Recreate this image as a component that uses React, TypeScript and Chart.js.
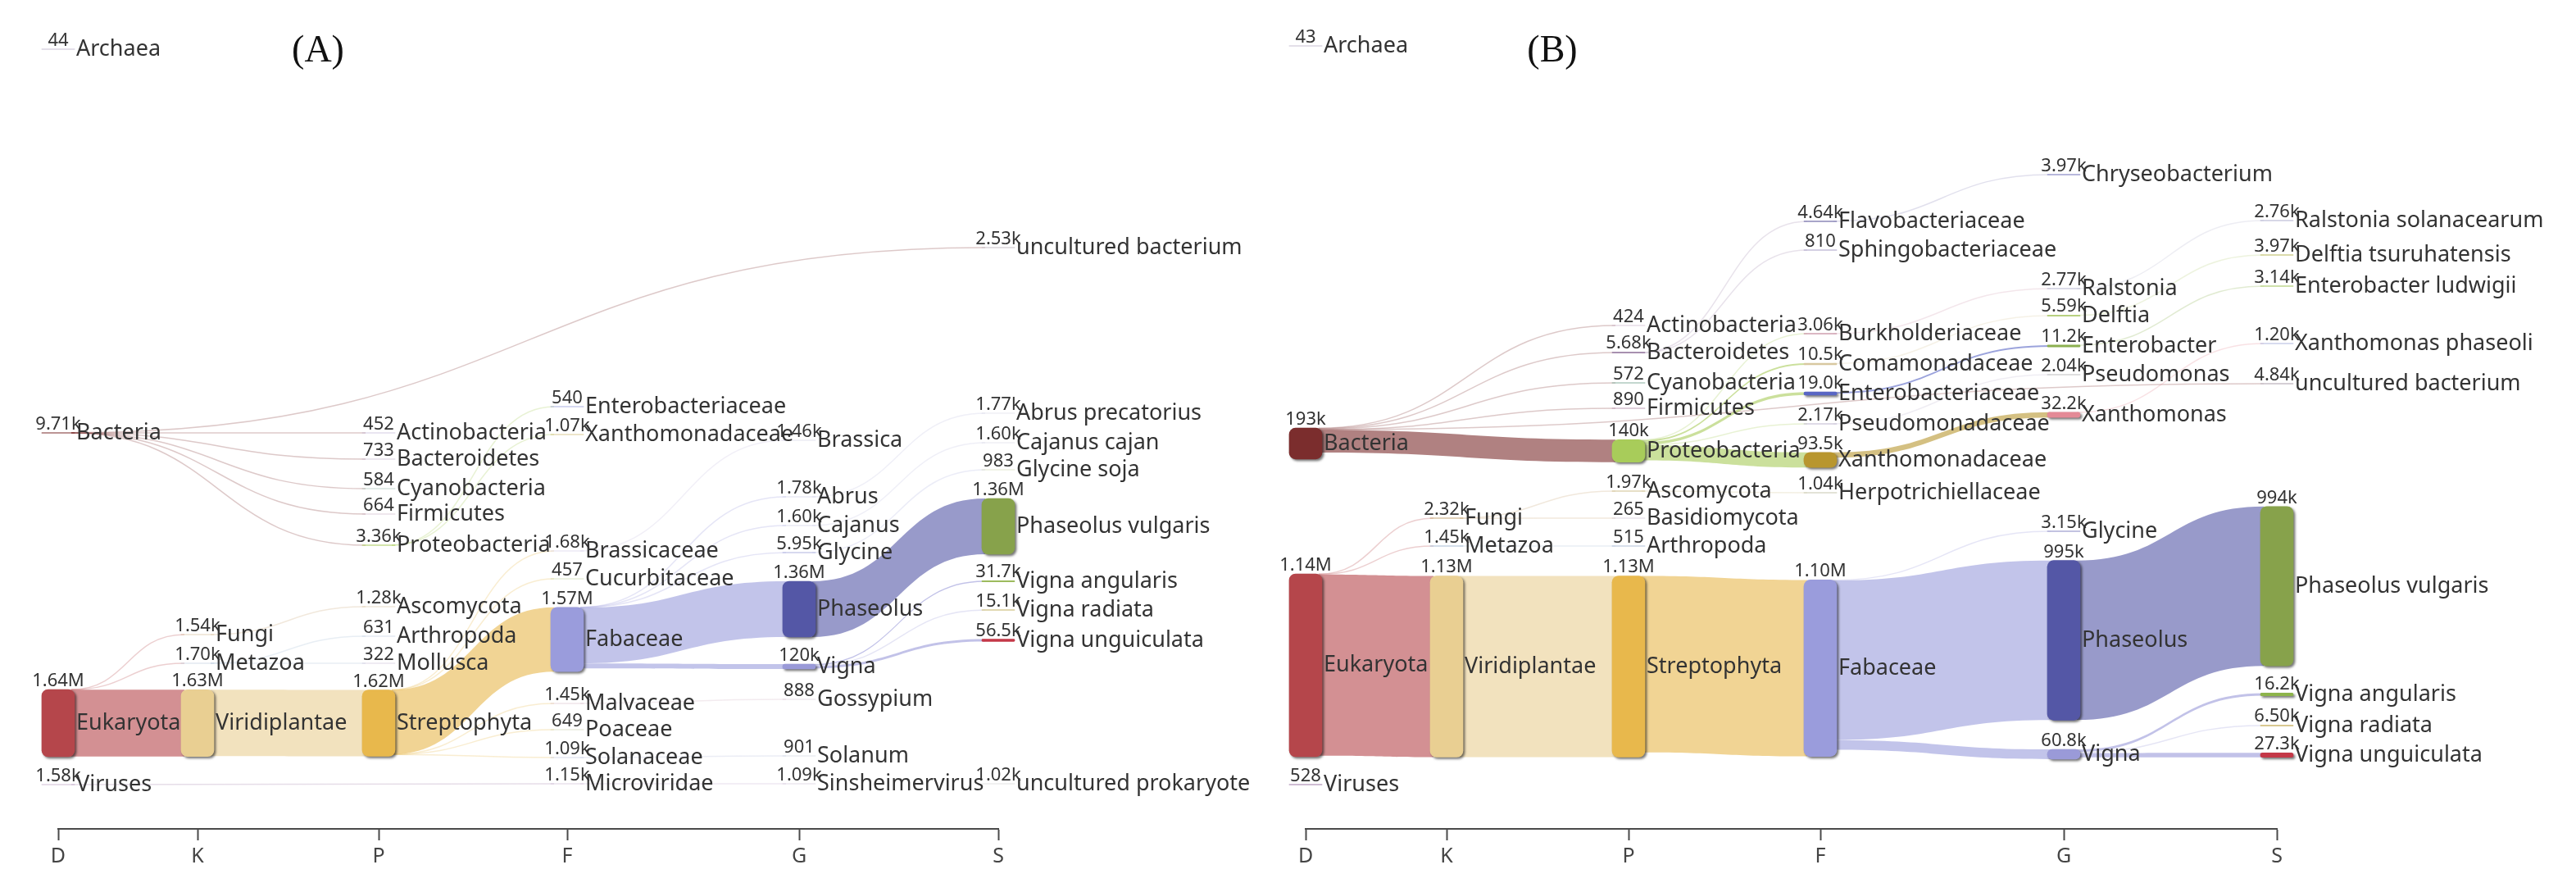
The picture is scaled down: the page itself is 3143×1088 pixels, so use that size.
import React, { useEffect, useRef } from 'react';
import { Chart, registerables } from 'chart.js';

Chart.register(...registerables);
Chart.defaults.font.family = '"Noto Sans"';

const RANKS = ['D', 'K', 'P', 'F', 'G', 'S'];

// ================= Panel A data =================
const A_NAMES = ['Archaea', 'Bacteria', 'Eukaryota', 'Viruses',
  'Fungi', 'Metazoa', 'Viridiplantae',
  'Actinobacteria', 'Bacteroidetes', 'Cyanobacteria', 'Firmicutes', 'Proteobacteria', 'Ascomycota', 'Arthropoda', 'Mollusca', 'Streptophyta',
  'Enterobacteriaceae', 'Xanthomonadaceae', 'Brassicaceae', 'Cucurbitaceae', 'Fabaceae', 'Malvaceae', 'Poaceae', 'Solanaceae', 'Microviridae',
  'Brassica', 'Abrus', 'Cajanus', 'Glycine', 'Phaseolus', 'Vigna', 'Gossypium', 'Solanum', 'Sinsheimervirus',
  'uncultured bacterium', 'Abrus precatorius', 'Cajanus cajan', 'Glycine soja', 'Phaseolus vulgaris', 'Vigna angularis', 'Vigna radiata', 'Vigna unguiculata', 'uncultured prokaryote'];
const A_RANK = [0, 0, 0, 0, 1, 1, 1, 2, 2, 2, 2, 2, 2, 2, 2, 2, 3, 3, 3, 3, 3, 3, 3, 3, 3, 4, 4, 4, 4, 4, 4, 4, 4, 4, 5, 5, 5, 5, 5, 5, 5, 5, 5];
const A_VALUES = [44, 9710, 1640000, 1580,
  1540, 1700, 1630000,
  452, 733, 584, 664, 3360, 1280, 631, 322, 1620000,
  540, 1070, 1680, 457, 1570000, 1450, 649, 1090, 1150,
  1460, 1780, 1600, 5950, 1360000, 120000, 888, 901, 1090,
  2530, 1770, 1600, 983, 1360000, 31700, 15100, 56500, 1020];
const A_LINK_FROM = ['Bacteria', 'Bacteria', 'Bacteria', 'Bacteria', 'Bacteria', 'Bacteria',
  'Eukaryota', 'Eukaryota', 'Eukaryota', 'Viruses', 'Fungi', 'Metazoa', 'Metazoa', 'Viridiplantae',
  'Proteobacteria', 'Proteobacteria',
  'Streptophyta', 'Streptophyta', 'Streptophyta', 'Streptophyta', 'Streptophyta', 'Streptophyta',
  'Brassicaceae', 'Fabaceae', 'Fabaceae', 'Fabaceae', 'Fabaceae', 'Fabaceae', 'Malvaceae', 'Solanaceae', 'Microviridae',
  'Abrus', 'Cajanus', 'Glycine', 'Phaseolus', 'Vigna', 'Vigna', 'Vigna'];
const A_LINK_TO = ['Actinobacteria', 'Bacteroidetes', 'Cyanobacteria', 'Firmicutes', 'Proteobacteria', 'uncultured bacterium',
  'Fungi', 'Metazoa', 'Viridiplantae', 'Microviridae', 'Ascomycota', 'Arthropoda', 'Mollusca', 'Streptophyta',
  'Enterobacteriaceae', 'Xanthomonadaceae',
  'Brassicaceae', 'Cucurbitaceae', 'Fabaceae', 'Malvaceae', 'Poaceae', 'Solanaceae',
  'Brassica', 'Abrus', 'Cajanus', 'Glycine', 'Phaseolus', 'Vigna', 'Gossypium', 'Solanum', 'Sinsheimervirus',
  'Abrus precatorius', 'Cajanus cajan', 'Glycine soja', 'Phaseolus vulgaris', 'Vigna angularis', 'Vigna radiata', 'Vigna unguiculata'];
const A_LINK_VALUES = [452, 733, 584, 664, 3360, 2530,
  1540, 1700, 1630000, 1150, 1280, 631, 322, 1620000,
  540, 1070,
  1680, 457, 1570000, 1450, 649, 1090,
  1460, 1780, 1600, 5950, 1360000, 120000, 888, 901, 1090,
  1770, 1600, 983, 1360000, 31700, 15100, 56500];

// ================= Panel B data =================
const B_NAMES = ['Archaea', 'Bacteria', 'Eukaryota', 'Viruses',
  'Fungi', 'Metazoa', 'Viridiplantae',
  'Actinobacteria', 'Bacteroidetes', 'Cyanobacteria', 'Firmicutes', 'Proteobacteria', 'Ascomycota', 'Basidiomycota', 'Arthropoda', 'Streptophyta',
  'Flavobacteriaceae', 'Sphingobacteriaceae', 'Burkholderiaceae', 'Comamonadaceae', 'Enterobacteriaceae', 'Pseudomonadaceae', 'Xanthomonadaceae', 'Herpotrichiellaceae', 'Fabaceae',
  'Chryseobacterium', 'Ralstonia', 'Delftia', 'Enterobacter', 'Pseudomonas', 'Xanthomonas', 'Glycine', 'Phaseolus', 'Vigna',
  'Ralstonia solanacearum', 'Delftia tsuruhatensis', 'Enterobacter ludwigii', 'Xanthomonas phaseoli', 'uncultured bacterium', 'Phaseolus vulgaris', 'Vigna angularis', 'Vigna radiata', 'Vigna unguiculata'];
const B_RANK = [0, 0, 0, 0, 1, 1, 1, 2, 2, 2, 2, 2, 2, 2, 2, 2, 3, 3, 3, 3, 3, 3, 3, 3, 3, 4, 4, 4, 4, 4, 4, 4, 4, 4, 5, 5, 5, 5, 5, 5, 5, 5, 5];
const B_VALUES = [43, 193000, 1140000, 528,
  2320, 1450, 1130000,
  424, 5680, 572, 890, 140000, 1970, 265, 515, 1130000,
  4640, 810, 3060, 10500, 19000, 2170, 93500, 1040, 1100000,
  3970, 2770, 5590, 11200, 2040, 32200, 3150, 995000, 60800,
  2760, 3970, 3140, 1200, 4840, 994000, 16200, 6500, 27300];
const B_LINK_FROM = ['Bacteria', 'Bacteria', 'Bacteria', 'Bacteria', 'Bacteria', 'Bacteria',
  'Eukaryota', 'Eukaryota', 'Eukaryota', 'Fungi', 'Fungi', 'Metazoa', 'Viridiplantae',
  'Bacteroidetes', 'Bacteroidetes',
  'Proteobacteria', 'Proteobacteria', 'Proteobacteria', 'Proteobacteria', 'Proteobacteria',
  'Ascomycota', 'Streptophyta', 'Flavobacteriaceae',
  'Burkholderiaceae', 'Comamonadaceae', 'Enterobacteriaceae', 'Pseudomonadaceae', 'Xanthomonadaceae',
  'Fabaceae', 'Fabaceae', 'Fabaceae',
  'Ralstonia', 'Delftia', 'Enterobacter', 'Xanthomonas', 'Phaseolus', 'Vigna', 'Vigna', 'Vigna'];
const B_LINK_TO = ['Actinobacteria', 'Bacteroidetes', 'Cyanobacteria', 'Firmicutes', 'Proteobacteria', 'uncultured bacterium',
  'Fungi', 'Metazoa', 'Viridiplantae', 'Ascomycota', 'Basidiomycota', 'Arthropoda', 'Streptophyta',
  'Flavobacteriaceae', 'Sphingobacteriaceae',
  'Burkholderiaceae', 'Comamonadaceae', 'Enterobacteriaceae', 'Pseudomonadaceae', 'Xanthomonadaceae',
  'Herpotrichiellaceae', 'Fabaceae', 'Chryseobacterium',
  'Ralstonia', 'Delftia', 'Enterobacter', 'Pseudomonas', 'Xanthomonas',
  'Glycine', 'Phaseolus', 'Vigna',
  'Ralstonia solanacearum', 'Delftia tsuruhatensis', 'Enterobacter ludwigii', 'Xanthomonas phaseoli', 'Phaseolus vulgaris', 'Vigna angularis', 'Vigna radiata', 'Vigna unguiculata'];
const B_LINK_VALUES = [424, 5680, 572, 890, 140000, 4840,
  2320, 1450, 1130000, 1970, 265, 515, 1130000,
  4640, 810,
  3060, 10500, 19000, 2170, 93500,
  1040, 1100000, 3970,
  2770, 5590, 11200, 2040, 32200,
  3150, 995000, 60800,
  2760, 3970, 3140, 1200, 994000, 16200, 6500, 27300];

// ================= Layout (positions, not data) =================
const A_COL_X = [71, 241, 462, 692, 975, 1218];
const A_NODE_Y = [60, 528, 882, 957,
  774, 809, 882,
  528, 560, 596, 627, 665, 740, 776, 809, 882,
  496, 530, 672, 706, 780, 858, 890, 924, 956,
  537, 606, 641, 674, 743, 813, 853, 922, 956,
  302, 504, 540, 573, 642, 709, 744, 781, 956];
const A_UNITS_PER_VALUE = 82 / 1640000;

const B_COL_X = [1593, 1765, 1987, 2221, 2518, 2778];
const B_NODE_Y = [56, 541, 811.5, 957,
  632, 666, 813,
  397, 430, 467, 498, 550, 599, 632, 666, 813,
  270, 305, 407, 444, 480, 517, 561, 601, 815,
  213, 352, 385, 422, 457, 506, 648, 781, 920,
  269, 311, 349, 419, 468, 715, 847, 885, 921];
const B_UNITS_PER_VALUE = 223 / 1140000;

// ================= Styles =================
const A_COLORS = ['#8f7fa8', '#7b2d2d', '#b5464b', '#a07aa8',
  '#c8a878', '#a8bcd4', '#e9cf92',
  '#a898c8', '#b0a0c0', '#88b0a0', '#c0a0b8', '#a8cc5a', '#d0b890', '#b0c0d8', '#c0b0d0', '#e8b84c',
  '#5866c4', '#b8962e', '#c8c0e0', '#b8cc90', '#9a9cdc', '#d0b0c0', '#c0c8a0', '#b0b8d8', '#c0a8c8',
  '#c8c8e0', '#c0c0e0', '#c0c0e0', '#b0b4e0', '#5457a6', '#9a9ad8', '#d0c0d0', '#c0c8d8', '#c8b8d0',
  '#c8c0c8', '#d0d0e0', '#d0d0e0', '#c8d0a0', '#87a24b', '#9dbb5e', '#d8cc98', '#c43848', '#c8c8c8'];
const B_COLORS = ['#8f7fa8', '#7b2d2d', '#b5464b', '#a07aa8',
  '#c8a878', '#a8bcd4', '#e9cf92',
  '#b898b8', '#a890b0', '#88b0a0', '#c0a0b8', '#a8cc5a', '#d0c090', '#c0b0c8', '#b0c0d8', '#e8b84c',
  '#8c88b8', '#a8a0c8', '#d0a0b0', '#d8c8a0', '#5866c4', '#c0b8d0', '#b8962e', '#c8c8b0', '#9a9cdc',
  '#a0a0d0', '#b8b8d0', '#b8d080', '#8cb050', '#c0c0c0', '#e48a96', '#b0b0d8', '#5457a6', '#9a9ad8',
  '#b0b0d0', '#d0d090', '#c0d890', '#b0b8e0', '#c8c0c8', '#87a24b', '#8db44a', '#d8c890', '#c43848'];

const NODE_WIDTH = 40;
const SHADOW_MIN_PX = 3;
const NAME_FONT = '27px "Noto Sans"';
const VALUE_FONT = '22px "Noto Sans"';
const TEXT_COLOR = '#333333';
const THIN_ALPHA = 0.26;
const BAND_ALPHA = 0.6;
const CANVAS_W = 3143;
const CANVAS_H = 1088;
const AXIS_Y = 1011;

function fmt(v: number): string {
  if (v >= 1e6) return (v / 1e6).toPrecision(3) + 'M';
  if (v >= 1e3) return (v / 1e3).toPrecision(3) + 'k';
  return String(v);
}

function rgba(hex: string, a: number): string {
  const n = parseInt(hex.slice(1), 16);
  return `rgba(${(n >> 16) & 255},${(n >> 8) & 255},${n & 255},${a})`;
}

type Panel = {
  label: string; labelX: number;
  names: string[]; rank: number[]; values: number[];
  from: string[]; to: string[]; linkValues: number[];
  colX: number[]; nodeY: number[]; upv: number; colors: string[];
};

const PANEL_A: Panel = {
  label: '(A)', labelX: 388,
  names: A_NAMES, rank: A_RANK, values: A_VALUES,
  from: A_LINK_FROM, to: A_LINK_TO, linkValues: A_LINK_VALUES,
  colX: A_COL_X, nodeY: A_NODE_Y, upv: A_UNITS_PER_VALUE, colors: A_COLORS,
};
const PANEL_B: Panel = {
  label: '(B)', labelX: 1894,
  names: B_NAMES, rank: B_RANK, values: B_VALUES,
  from: B_LINK_FROM, to: B_LINK_TO, linkValues: B_LINK_VALUES,
  colX: B_COL_X, nodeY: B_NODE_Y, upv: B_UNITS_PER_VALUE, colors: B_COLORS,
};

function nodeGeometry(chart: any, P: Panel) {
  const x = chart.scales.x;
  const y = chart.scales.y;
  return P.names.map((_, i) => {
    const cx = x.getPixelForValue(P.colX[P.rank[i]]);
    const h = P.values[i] * P.upv;
    const top = y.getPixelForValue(P.nodeY[i] - h / 2);
    const bottom = y.getPixelForValue(P.nodeY[i] + h / 2);
    return { cx, top, bottom, left: cx - NODE_WIDTH / 2, right: cx + NODE_WIDTH / 2 };
  });
}

function sankeyPlugin(P: Panel) {
  return {
    id: 'sankeyLinks',
    beforeDatasetsDraw(chart: any) {
      const ctx = chart.ctx;
      const y = chart.scales.y;
      const nodes = nodeGeometry(chart, P);
      const idx: Record<string, number> = {};
      P.names.forEach((n, i) => { idx[n] = i; });
      const unitPx = Math.abs(y.getPixelForValue(1) - y.getPixelForValue(0));
      const links = P.from.map((f, k) => ({ s: idx[f], t: idx[P.to[k]], v: P.linkValues[k], y0: 0, y1: 0, th: 0 }));
      links.forEach(l => { l.th = l.v * P.upv * unitPx; });
      P.names.forEach((_, i) => {
        let off = nodes[i].top;
        links.filter(l => l.s === i).sort((a, b) => P.nodeY[a.t] - P.nodeY[b.t]).forEach(l => {
          l.y0 = off + l.th / 2; off += l.th;
        });
        let off2 = nodes[i].top;
        links.filter(l => l.t === i).sort((a, b) => P.nodeY[a.s] - P.nodeY[b.s]).forEach(l => {
          l.y1 = off2 + l.th / 2; off2 += l.th;
        });
      });
      ctx.save();
      links.forEach(l => {
        const x0 = nodes[l.s].right - 4;
        const x1 = nodes[l.t].left + 4;
        const xm = (x0 + x1) / 2;
        const col = P.colors[l.s];
        if (l.th < 1.5) {
          ctx.beginPath();
          ctx.moveTo(x0, l.y0);
          ctx.bezierCurveTo(xm, l.y0, xm, l.y1, x1, l.y1);
          ctx.lineWidth = 1.5;
          ctx.strokeStyle = rgba(col, THIN_ALPHA);
          ctx.stroke();
        } else {
          const h = l.th / 2;
          ctx.beginPath();
          ctx.moveTo(x0, l.y0 - h);
          ctx.bezierCurveTo(xm, l.y0 - h, xm, l.y1 - h, x1, l.y1 - h);
          ctx.lineTo(x1, l.y1 + h);
          ctx.bezierCurveTo(xm, l.y1 + h, xm, l.y0 + h, x0, l.y0 + h);
          ctx.closePath();
          ctx.fillStyle = rgba(col, BAND_ALPHA);
          ctx.fill();
        }
      });
      ctx.restore();
    },
    beforeDatasetDraw(chart: any, args: any) {
      const ctx = chart.ctx;
      ctx.save();
      if (args.index === 0) {
        ctx.shadowColor = 'rgba(0,0,0,0.55)';
        ctx.shadowOffsetX = 2;
        ctx.shadowOffsetY = 2;
        ctx.shadowBlur = 3;
      }
    },
    afterDatasetDraw(chart: any) {
      chart.ctx.restore();
    },
    afterDatasetsDraw(chart: any) {
      const ctx = chart.ctx;
      const nodes = nodeGeometry(chart, P);
      ctx.save();
      ctx.fillStyle = TEXT_COLOR;
      nodes.forEach((n, i) => {
        ctx.font = VALUE_FONT;
        ctx.textAlign = 'center';
        ctx.textBaseline = 'alphabetic';
        ctx.fillText(fmt(P.values[i]), n.cx, n.top - 4);
        ctx.font = NAME_FONT;
        ctx.textAlign = 'left';
        ctx.textBaseline = 'middle';
        ctx.fillText(P.names[i], n.right + 2, (n.top + n.bottom) / 2);
      });
      ctx.font = '46px "Liberation Serif"';
      ctx.fillStyle = '#111111';
      ctx.textAlign = 'center';
      ctx.textBaseline = 'middle';
      ctx.fillText(P.label, P.labelX, 63);
      ctx.restore();
    },
  };
}

function SankeyPanel({ panel }: { panel: Panel }) {
  const ref = useRef<HTMLCanvasElement>(null);
  useEffect(() => {
    const P = panel;
    const big: any[] = [];
    const bigColors: string[] = [];
    const small: any[] = [];
    const smallColors: string[] = [];
    P.names.forEach((_, i) => {
      const h = P.values[i] * P.upv;
      const pt = { x: P.colX[P.rank[i]], y: [P.nodeY[i] - h / 2, P.nodeY[i] + h / 2] };
      if (h >= SHADOW_MIN_PX) { big.push(pt); bigColors.push(P.colors[i]); }
      else { small.push(pt); smallColors.push(P.colors[i]); }
    });
    const common = { barThickness: NODE_WIDTH, borderRadius: 8, borderSkipped: false, grouped: false, clip: false };
    const chart = new Chart(ref.current as HTMLCanvasElement, {
      type: 'bar',
      data: {
        datasets: [
          { data: big, backgroundColor: bigColors, ...common } as any,
          { data: small, backgroundColor: smallColors, ...common } as any,
        ],
      },
      options: {
        animation: false,
        responsive: false,
        devicePixelRatio: 1,
        events: [],
        layout: { padding: { left: P.colX[0], right: CANVAS_W - P.colX[5], top: 0, bottom: 23 } },
        plugins: { legend: { display: false }, tooltip: { enabled: false } },
        scales: {
          x: {
            type: 'linear',
            min: P.colX[0],
            max: P.colX[5],
            offset: false,
            afterBuildTicks: (scale: any) => { scale.ticks = P.colX.map(v => ({ value: v })); },
            grid: { display: true, drawOnChartArea: false, drawTicks: true, tickLength: 14, tickWidth: 2, tickColor: '#4a4a4a', offset: false },
            border: { display: true, color: '#4a4a4a', width: 2 },
            ticks: {
              autoSkip: false, maxRotation: 0, padding: 5, color: '#444444',
              font: { size: 25, family: '"Noto Sans"' },
              callback: (_v: any, i: number) => RANKS[i],
            },
          } as any,
          y: { type: 'linear', display: false, min: 0, max: AXIS_Y, reverse: true },
        },
      } as any,
      plugins: [sankeyPlugin(P)],
    });
    return () => chart.destroy();
  }, [panel]);
  return (
    <canvas ref={ref} width={CANVAS_W} height={CANVAS_H}
      style={{ position: 'absolute', left: 0, top: 0, width: CANVAS_W, height: CANVAS_H }} />
  );
}

export default function App() {
  useEffect(() => {
    document.body.style.margin = '0';
    document.body.style.background = '#ffffff';
  }, []);
  return (
    <div style={{ position: 'relative', width: CANVAS_W, height: CANVAS_H, background: '#ffffff', overflow: 'hidden' }}>
      <SankeyPanel panel={PANEL_A} />
      <SankeyPanel panel={PANEL_B} />
    </div>
  );
}
